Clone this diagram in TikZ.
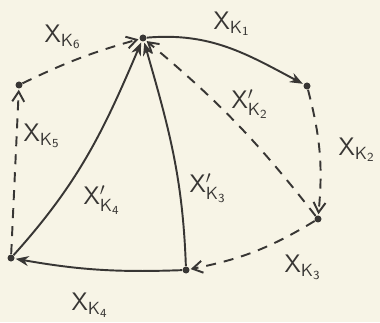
\documentclass[tikz,border=0pt]{standalone}
\usepackage{amsmath}
\usepackage{tikz}
\usetikzlibrary{arrows.meta}
\definecolor{cInk}{HTML}{383634}
\definecolor{cPaper}{HTML}{F7F4E6}
\newcommand{\xk}[1]{\mathsf{X}_{\mathsf{K}_{\mathsf{#1}}}}
\newcommand{\xkp}[1]{\mathsf{X}'_{\mathsf{K}_{\mathsf{#1}}}}
\tikzset{
  dot/.style={circle, fill=cInk, inner sep=0pt, minimum size=1.4mm},
  flow/.style={-{Stealth[length=2.6mm, width=2mm]}, line width=1.1pt, draw=cInk,
               shorten >=0.5pt},
  flowd/.style={-{Straight Barb[length=2mm, width=2.4mm]}, line width=1.1pt, draw=cInk,
                dash pattern=on 2mm off 1.6mm, shorten >=0.5pt},
  lbl/.style={font=\Large, text=cInk, inner sep=1pt},
}

\begin{document}
\begin{tikzpicture}
  \fill[cPaper] (0,0) rectangle (7.6,6.44);
  \useasboundingbox (0,0) rectangle (7.6,6.44);

  % vertices
  \node[dot] (top) at (2.86,5.68) {};
  \node[dot] (rup) at (6.14,4.72) {};
  \node[dot] (rlo) at (6.36,2.06) {};
  \node[dot] (bot) at (3.72,1.04) {};
  \node[dot] (llo) at (0.22,1.28) {};
  \node[dot] (lup) at (0.38,4.74) {};

  % outer cycle
  \draw[flow] (top) to[out=5, in=152] (rup);
  \draw[flowd] (rup) to[bend left=10] (rlo);
  \draw[flowd] (rlo) to[bend left=10] (bot);
  \draw[flow] (bot) to[bend left=6] (llo);
  \draw[flowd] (llo) -- (lup);
  \draw[flowd] (lup) to[bend left=5] (top);

  % chords back to the top
  \draw[flowd] (rlo) to[bend right=6] (top);
  \draw[flow] (bot) to[out=92, in=-74] (top);
  \draw[flow] (llo) to[out=48, in=-113] (top);

  % labels
  \node[lbl] (l1) at (4.64,5.96) {$\xk{1}$};
  \node[lbl] (l2) at (7.14,3.44) {$\xk{2}$};
  \node[lbl] (l2p) at (5.00,4.36) {$\xkp{2}$};
  \node[lbl] (l3) at (6.06,1.10) {$\xk{3}$};
  \node[lbl] (l3p) at (4.16,2.68) {$\xkp{3}$};
  \node[lbl] (l4) at (1.80,0.34) {$\xk{4}$};
  \node[lbl] (l4p) at (2.04,2.44) {$\xkp{4}$};
  \node[lbl] (l5) at (0.84,3.72) {$\xk{5}$};
  \node[lbl] (l6) at (1.26,5.70) {$\xk{6}$};
\end{tikzpicture}
\end{document}
